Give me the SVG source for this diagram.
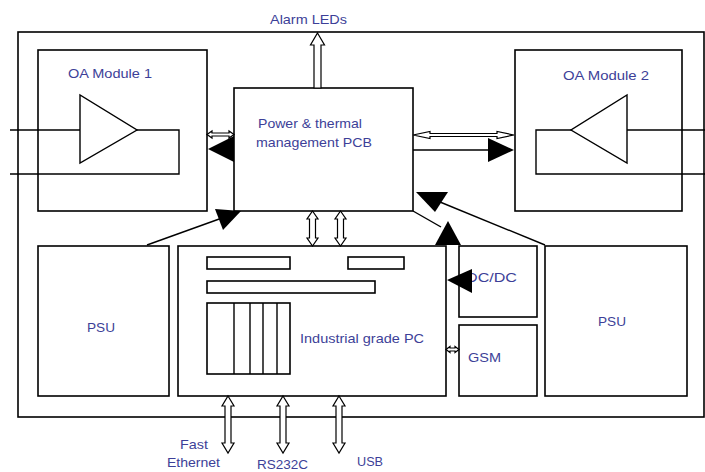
<svg xmlns="http://www.w3.org/2000/svg" width="705" height="472" viewBox="0 0 705 472">
<style>
.box{fill:none;stroke:#000;stroke-width:1.6}
.ln{fill:none;stroke:#000;stroke-width:1.4}
.hol{fill:#fff;stroke:#000;stroke-width:1.2;stroke-linejoin:miter}
.sol{fill:#000;stroke:none}
.lbl{font-family:"Liberation Sans",Arial,sans-serif;font-size:13px;fill:#3d3f98}
</style>
<rect width="705" height="472" fill="#fff"/>
<g id="enclosure"><rect class="box" x="18" y="32" width="686" height="385"/></g>
<g id="oa1">
<rect class="box" x="38" y="50" width="169" height="161"/>
<text class="lbl" x="68" y="78" textLength="84" lengthAdjust="spacingAndGlyphs">OA Module 1</text>
<polygon class="ln" points="80,95 80,163 137,130"/>
<path class="ln" d="M10,130 H80 M137,130 H179 V174 H10"/>
</g>
<g id="oa2">
<rect class="box" x="515" y="50" width="167" height="161"/>
<text class="lbl" x="563" y="79.5" textLength="86" lengthAdjust="spacingAndGlyphs">OA Module 2</text>
<polygon class="ln" points="627,95 627,163 571,130"/>
<path class="ln" d="M705,130 H627 M571,130 H536 V174 H705"/>
</g>
<g id="pcb">
<rect class="box" x="234" y="88" width="179" height="123"/>
<text class="lbl" x="258" y="128" textLength="104" lengthAdjust="spacingAndGlyphs">Power &amp; thermal</text>
<text class="lbl" x="256" y="146.5" textLength="116" lengthAdjust="spacingAndGlyphs">management PCB</text>
</g>
<g id="psu1">
<rect class="box" x="38" y="246" width="131" height="150"/>
<text class="lbl" x="87" y="331.5" textLength="28" lengthAdjust="spacingAndGlyphs">PSU</text>
</g>
<g id="pc">
<rect class="box" x="178" y="246" width="268" height="150"/>
<rect class="box" x="207" y="257" width="83" height="12"/>
<rect class="box" x="348" y="257" width="56" height="12"/>
<rect class="box" x="207" y="281" width="168" height="12"/>
<rect class="box" x="207" y="303" width="83" height="71"/>
<path class="ln" d="M234,303 V374 M250,303 V374 M263,303 V374 M277,303 V374"/>
<text class="lbl" x="300" y="343" textLength="124" lengthAdjust="spacingAndGlyphs">Industrial grade PC</text>
</g>
<g id="dcdc">
<rect class="box" x="459" y="246" width="78" height="71"/>
<text class="lbl" x="466" y="281.5" textLength="51" lengthAdjust="spacingAndGlyphs">DC/DC</text>
</g>
<g id="gsm">
<rect class="box" x="459" y="325" width="78" height="71"/>
<text class="lbl" x="468" y="362" textLength="33" lengthAdjust="spacingAndGlyphs">GSM</text>
</g>
<g id="psu2">
<rect class="box" x="545" y="246" width="142" height="150"/>
<text class="lbl" x="598" y="325.5" textLength="28" lengthAdjust="spacingAndGlyphs">PSU</text>
</g>
<g id="connectors">
<polygon class="hol" points="317.5,33 324.5,45 321,45 321,88 314,88 314,45 310.5,45"/>
<polygon class="hol" points="207,134.5 212,131 212,133 229,133 229,131 234,134.5 229,138 229,136 212,136 212,138"/>
<polygon class="sol" points="208,149 234,136 234,162"/>
<polygon class="hol" points="413,135 430,131.5 430,133.5 497,133.5 497,131.5 514,135 497,138.5 497,136.5 430,136.5 430,138.5"/>
<line class="ln" x1="413" y1="150" x2="490" y2="150"/>
<polygon class="sol" points="514,150 488,138 488,162"/>
<polygon class="hol" points="312.5,211 318,219 315.5,219 315.5,238 318,238 312.5,246 307,238 309.5,238 309.5,219 307,219"/>
<polygon class="hol" points="340.5,211 346,219 343.5,219 343.5,238 346,238 340.5,246 335,238 337.5,238 337.5,219 335,219"/>
<line class="ln" x1="147" y1="245" x2="222" y2="218"/>
<polygon class="sol" points="241,211 215,209 223,230"/>
<line class="ln" x1="545" y1="245" x2="440" y2="202"/>
<polygon class="sol" points="416,192 448,192 435,212"/>
<line class="ln" x1="413" y1="211" x2="441" y2="227"/>
<polygon class="sol" points="448,221 435,245 461,245"/>
<polygon class="sol" points="447,280 472,269 472,293"/>
<polygon class="hol" points="446,349.5 450,346.5 450,348 455,348 455,346.5 459,349.5 455,352.5 455,351 450,351 450,352.5"/>
<polygon class="hol" points="228,396 234,406 231,406 231,443 234,443 228,453 222,443 225,443 225,406 222,406"/>
<polygon class="hol" points="283,396 289,406 286,406 286,443 289,443 283,453 277,443 280,443 280,406 277,406"/>
<polygon class="hol" points="339,396 345,406 342,406 342,443 345,443 339,453 333,443 336,443 336,406 333,406"/>
</g>
<g id="labels">
<text class="lbl" x="270" y="23.5" textLength="77" lengthAdjust="spacingAndGlyphs">Alarm LEDs</text>
<text class="lbl" x="180" y="449" textLength="28" lengthAdjust="spacingAndGlyphs">Fast</text>
<text class="lbl" x="167" y="467" textLength="53" lengthAdjust="spacingAndGlyphs">Ethernet</text>
<text class="lbl" x="257" y="468.5" textLength="51" lengthAdjust="spacingAndGlyphs">RS232C</text>
<text class="lbl" x="357" y="466" textLength="26" lengthAdjust="spacingAndGlyphs">USB</text>
</g>
</svg>
